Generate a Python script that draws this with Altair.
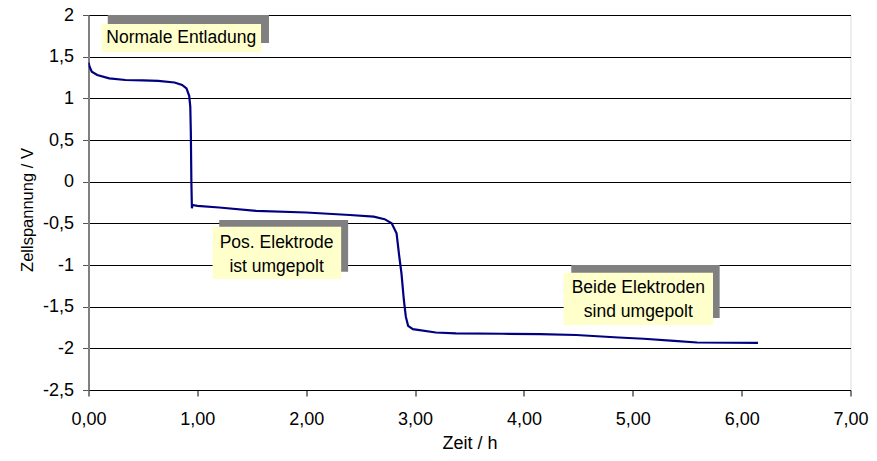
import altair as alt
import pandas as pd

# Curve: time (h) and cell voltage (V)
t_h = [0.00, 0.01, 0.03, 0.08, 0.19, 0.34, 0.50, 0.64, 0.79, 0.86, 0.90, 0.925,
       0.935, 0.94, 0.945, 0.95, 0.955, 1.00, 1.20, 1.54, 2.00, 2.40, 2.62, 2.72,
       2.785, 2.83, 2.855, 2.875, 2.897, 2.915, 2.936, 2.98, 3.19, 3.375, 3.80,
       4.15, 4.48, 4.87, 5.10, 5.38, 5.59, 5.90, 6.15]
volt = [1.43, 1.38, 1.32, 1.28, 1.24, 1.22, 1.215, 1.21, 1.19, 1.16, 1.12, 1.03,
        0.90, 0.60, 0.00, -0.32, -0.28, -0.29, -0.31, -0.35, -0.37, -0.40, -0.42, -0.45,
        -0.50, -0.62, -0.90, -1.10, -1.42, -1.62, -1.73, -1.77, -1.81, -1.82, -1.825,
        -1.83, -1.84, -1.87, -1.885, -1.91, -1.93, -1.933, -1.935]

# Annotation boxes (data units)
box_x1 = [0.120, 1.140, 4.365]
box_x2 = [1.585, 2.321, 5.737]
box_y1 = [1.892, -0.540, -1.092]
box_y2 = [1.556, -1.168, -1.720]
shadow_x1 = [0.177, 1.201, 4.435]
shadow_x2 = [1.658, 2.385, 5.798]
shadow_y1 = [2.000, -0.460, -1.000]
shadow_y2 = [1.664, -1.080, -1.636]

# Annotation text lines
label_text = ["Normale Entladung", "Pos. Elektrode", "ist umgepolt",
              "Beide Elektroden", "sind umgepolt"]
label_t = [0.852, 1.728, 1.728, 5.051, 5.051]
label_v = [1.66, -0.80, -1.08, -1.34, -1.62]

x_ticks = [0, 1, 2, 3, 4, 5, 6, 7]
y_ticks = [-2.5, -2, -1.5, -1, -0.5, 0, 0.5, 1, 1.5, 2]

curve = pd.DataFrame({"t": t_h, "v": volt, "i": list(range(len(t_h)))})
boxes = pd.DataFrame({"x1": box_x1, "x2": box_x2, "y1": box_y1, "y2": box_y2})
shadows = pd.DataFrame({"x1": shadow_x1, "x2": shadow_x2, "y1": shadow_y1, "y2": shadow_y2})
labels = pd.DataFrame({"t": label_t, "v": label_v, "txt": label_text})

FONT = "Liberation Sans"

xscale = alt.Scale(domain=[0, 7], nice=False, zero=False)
yscale = alt.Scale(domain=[-2.5, 2], nice=False, zero=False)

xaxis = alt.Axis(
    title="Zeit / h", values=x_ticks, grid=False, labelFlush=False, labelOverlap=False,
    labelExpr="replace(format(datum.value, '.2f'), '.', ',')",
    labelFont=FONT, labelFontSize=18, labelColor="black", labelPadding=14,
    tickSize=6, tickColor="black", domainColor="black", domainWidth=1,
    titleFont=FONT, titleFontSize=18, titleFontWeight="normal", titleColor="black",
    titleBaseline="alphabetic", titleY=58,
)
yaxis = alt.Axis(
    title="Zellspannung / V", values=y_ticks, grid=True, gridColor="black", gridWidth=1,
    gridOpacity=1, labelFlush=False, labelOverlap=False,
    labelExpr="replace(toString(datum.value), '.', ',')",
    labelFont=FONT, labelFontSize=18, labelColor="black", labelPadding=9,
    tickSize=6, tickColor="#555555", domainColor="#808080", domainWidth=2,
    titleFont=FONT, titleFontSize=16.5, titleFontWeight="normal", titleColor="black",
    titleBaseline="alphabetic", titleX=-56, titleY=194.5, titleAngle=-90,
)

line = alt.Chart(curve).mark_line(color="#000080", strokeWidth=2.2, clip=True).encode(
    x=alt.X("t:Q", scale=xscale, axis=xaxis),
    y=alt.Y("v:Q", scale=yscale, axis=yaxis),
    order="i:Q",
)

shadow_rect = alt.Chart(shadows).mark_rect(color="#808080").encode(
    x=alt.X("x1:Q", scale=xscale), x2="x2:Q",
    y=alt.Y("y1:Q", scale=yscale), y2="y2:Q",
)
box_rect = alt.Chart(boxes).mark_rect(color="#FFFFCC").encode(
    x=alt.X("x1:Q", scale=xscale), x2="x2:Q",
    y=alt.Y("y1:Q", scale=yscale), y2="y2:Q",
)
texts = alt.Chart(labels).mark_text(
    font=FONT, fontSize=17.5, color="black", align="center", baseline="alphabetic"
).encode(
    x=alt.X("t:Q", scale=xscale),
    y=alt.Y("v:Q", scale=yscale),
    text="txt:N",
)

chart = alt.layer(line, shadow_rect, box_rect, texts).properties(
    width=762, height=375,
    autosize=alt.AutoSizeParams(type="none"),
    padding={"left": 80.5, "top": 7, "right": 18.5, "bottom": 63},
).configure_view(stroke="#808080", strokeWidth=1).configure(background="white")

chart.save("out.html", embed_options={"renderer": "svg", "actions": False})
